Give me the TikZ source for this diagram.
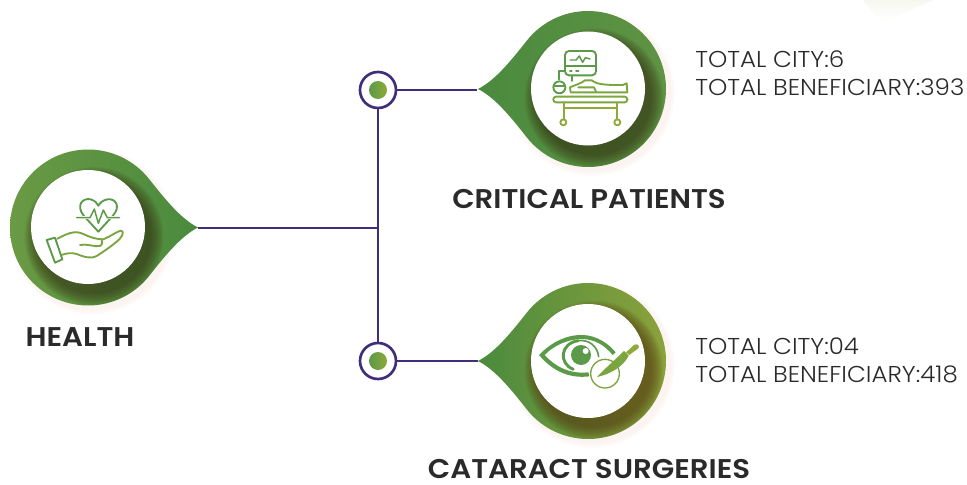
\documentclass[tikz,border=0pt]{standalone}
\usepackage{fontspec}
\setmainfont{Poppins}
\newfontfamily\lightf[FakeStretch=1.07]{Poppins Light}
\newfontfamily\boldf[FakeStretch=1.08]{Poppins SemiBold}
\definecolor{linepurple}{HTML}{3F2F7A}
\definecolor{txt}{HTML}{2A2A2A}
\definecolor{tipgreen}{HTML}{4A8A3E}
\definecolor{icA}{HTML}{5B9A48}
\definecolor{icB}{HTML}{7BA53F}
\definecolor{icC}{HTML}{8FA93A}
\definecolor{shadowpink}{HTML}{E8B59C}
\definecolor{farH}{HTML}{6A9A44}
\definecolor{farC}{HTML}{609344}
\definecolor{farS}{HTML}{8CA23C}
\definecolor{darkH}{HTML}{3A3518}
\definecolor{darkS}{HTML}{5A3A14}
\definecolor{corner}{HTML}{F6F8F0}
\newcommand{\droppath}{(38.5:78) .. controls (75,31) and (92,9) .. (110,0) .. controls (92,-9) and (75,-31) .. (-38.5:78) arc[start angle=-38.5,end angle=-321.5,radius=78] -- cycle}
% #1 centre, #2 xscale, #3 left colour, #4 right colour, #5 shadow colour
\newcommand{\dropat}[5]{%
  \begin{scope}[shift={#1},y=.75pt]
    \foreach \r in {79,80,...,83}{\fill[shadowpink,opacity=.03] (4,-4) circle[radius=\r];}
    \begin{scope}
      \path[xscale=#2,clip] \droppath;
      \shade[left color=#3,right color=#4,xscale=#2] (-78,-90) rectangle (110,90);
      \foreach \r in {57,57.6,...,70}{\fill[#5,opacity=.04] (6,-9) circle[radius=\r];}
    \end{scope}
  \end{scope}}
\tikzset{
  conn/.style={draw=linepurple,line width=1.9pt},
  whitedisc/.style={circle,fill=white,inner sep=0pt,minimum size=85.5pt},
  ring/.style={circle,draw=linepurple,line width=2pt,fill=white,inner sep=0pt,minimum size=27pt},
  ball/.style={circle,inner sep=0pt,minimum size=13.5pt,left color=icA,right color=icC},
  headt/.style={font=\boldf\fontsize{20.3}{20.3}\selectfont,text=txt,inner sep=0pt},
  bodyt/.style={font=\lightf\fontsize{17.2}{17.2}\selectfont,text=txt,inner sep=0pt,anchor=west},
  ic/.style={line width=1.4pt,line cap=round,line join=round,fill=none},
}
\begin{document}
\begin{tikzpicture}[x=.75pt,y=-.75pt]
\useasboundingbox (0,0) rectangle (967,485);
% faint corner
\shade[top color=corner,bottom color=white] (863,0) .. controls (870,10) and (878,18) .. (884,22) -- (933,0) -- cycle;
% anchors
\coordinate (tipH) at (198,228);
\coordinate (tipC) at (477,90);
\coordinate (tipS) at (478,361);
\coordinate (j) at (378,228);
\node[ring] (r1) at (378,90) {};
\node[ring] (r2) at (378,361) {};
% connectors
\draw[conn] (tipH) -- (j);
\draw[conn] (r1) -- (r2);
\draw[conn] (r1) -- (tipC);
\draw[conn] (r2) -- (tipS);
\node[ball] (b1) at (r1) {};
\node[ball] (b2) at (r2) {};
% drops
\dropat{(88,227.5)}{1}{farH}{tipgreen}{darkH}
\dropat{(588,89)}{-1}{tipgreen}{farC}{darkH}
\dropat{(588,361)}{-1}{tipgreen}{farS}{darkS}
\node[whitedisc] (dH) at (88,227) {};
\node[whitedisc] (dC) at (588,88.5) {};
\node[whitedisc] (dS) at (588,361) {};
% health icon
\begin{scope}[shift={(0,140)},x=.25pt,y=-.25pt]
  \draw[ic,icA] (295,275) -- (252,228) .. controls (225,195) and (250,172) .. (272,178) .. controls (285,182) and (292,190) .. (295,197) .. controls (300,188) and (310,180) .. (322,178) .. controls (345,174) and (365,198) .. (338,228) -- cycle;
  \draw[ic,white,line width=2.6pt] (250,233) -- (340,233);
  \draw[ic,icA,line width=1.1pt] (230,233) -- (270,233) -- (283,207) -- (295,250) -- (310,210) -- (322,233) -- (358,233);
  \draw[ic,icA] (140,300) -- (165,293) -- (187,358) -- (165,368) -- cycle;
  \draw[ic,icB] (172,296) .. controls (195,285) and (222,268) .. (250,282) .. controls (270,292) and (290,298) .. (310,298) .. controls (330,290) and (350,275) .. (362,272) .. controls (372,272) and (370,285) .. (358,298) .. controls (340,315) and (310,335) .. (290,348) .. controls (270,358) and (250,350) .. (230,342) .. controls (215,337) and (200,340) .. (187,344);
  \draw[ic,icB] (240,315) .. controls (260,310) and (285,322) .. (300,318) .. controls (308,312) and (308,305) .. (305,300);
\end{scope}
% patient icon
\begin{scope}[shift={(470,0)},x=.25pt,y=-.25pt]
  \draw[ic,icA,rounded corners=3pt] (285,153) rectangle (378,226);
  \draw[ic,icA] (285,198) -- (378,198);
  \draw[ic,icA,line width=1.1pt] (300,180) -- (318,180) -- (328,168) -- (338,187) -- (346,173) -- (360,177);
  \draw[ic,icA] (300,212) -- (305,212) (318,212) -- (325,212);
  \draw[ic,icA] (305,226) -- (305,243);
  \draw[ic,icA] (266,238) -- (266,212) -- (285,212);
  \draw[ic,icA] (268,262) circle[radius=18];
  \draw[ic,icA] (252,258) -- (284,258);
  \draw[ic,icB] (302,277) -- (300,262) .. controls (315,255) and (335,250) .. (345,241) -- (365,241) .. controls (378,252) and (400,254) .. (430,255) -- (458,255) -- (470,250) -- (472,277) -- cycle;
  \draw[ic,icB] (325,262) -- (372,262) -- (378,275);
  \draw[ic,icB,rounded corners=2pt] (250,290) rectangle (472,307);
  \draw[ic,icC] (282,307) -- (282,357) (440,307) -- (440,357) (282,325) -- (440,325);
  \draw[ic,icC] (280,367) circle[radius=9];
  \draw[ic,icC] (442,367) circle[radius=9];
\end{scope}
% eye icon
\begin{scope}[shift={(470,275)},x=.25pt,y=-.25pt]
  \fill[icA] (207,240) .. controls (250,195) and (300,178) .. (340,180) .. controls (380,182) and (415,205) .. (437,232) -- (428,240) .. controls (405,212) and (375,192) .. (335,192) .. controls (295,192) and (250,212) .. (224,240) .. controls (255,275) and (300,298) .. (355,292) -- (358,304) .. controls (295,312) and (245,285) .. (207,240) -- cycle;
  \draw[icA,line width=2.2pt,line cap=round] (310,283) .. controls (265,265) and (270,205) .. (325,197);
  \draw[icA,line width=1.2pt,line cap=round] (326,197) .. controls (355,193) and (382,212) .. (386,245);
  \fill[icA] (333,240) circle[radius=30];
  \fill[white] (347,228) circle[radius=9];
  \draw[icB,line width=1pt,fill=white] (405,296) circle[radius=43];
  \fill[icB] (381,306) .. controls (405,280) and (440,250) .. (462,228) -- (476,242) .. controls (460,275) and (420,298) .. (381,306) -- cycle;
  \fill[icC] (468,232) -- (492,210) .. controls (502,205) and (510,210) .. (505,220) -- (478,240) -- cycle;
\end{scope}
% texts
\node[headt] (lH) at (80,337) {HEALTH};
\node[headt] (lC) at (589,199) {CRITICAL PATIENTS};
\node[headt] (lS) at (589,469.5) {CATARACT SURGERIES};
\node[bodyt] (c1) at (695,59) {TOTAL CITY:6};
\node[bodyt] (c2) at (695,87) {TOTAL BENEFICIARY:393};
\node[bodyt] (s1) at (695,346) {TOTAL CITY:04};
\node[bodyt] (s2) at (695,374) {TOTAL BENEFICIARY:418};
\end{tikzpicture}
\end{document}
